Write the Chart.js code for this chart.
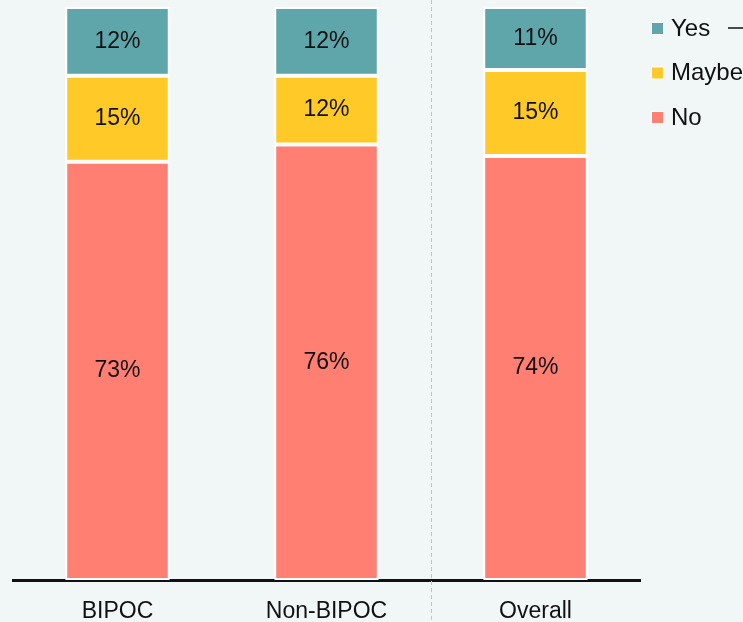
<!DOCTYPE html>
<html>
<head>
<meta charset="utf-8">
<script src="https://cdn.jsdelivr.net/npm/chart.js@4"></script>
<style>
  html, body { margin: 0; padding: 0; background: #f1f7f7; }
  #wrap { width: 743px; height: 622px; }
</style>
</head>
<body>
<div id="wrap"><canvas id="surveyChart"></canvas></div>
<script>
const categories = ['BIPOC', 'Non-BIPOC', 'Overall'];
const noValues = [73, 76, 74];
const maybeValues = [15, 12, 15];
const yesValues = [12, 12, 11];

const FONT = '"Liberation Sans", Arial, sans-serif';

// percent labels in the middle of each segment
const segmentLabels = {
  id: 'segmentLabels',
  afterDatasetsDraw(chart) {
    const ctx = chart.ctx;
    ctx.save();
    ctx.font = '23px ' + FONT;
    ctx.fillStyle = '#111';
    ctx.textAlign = 'center';
    ctx.textBaseline = 'middle';
    chart.data.datasets.forEach((ds, i) => {
      chart.getDatasetMeta(i).data.forEach((bar, j) => {
        const p = bar.getProps(['x', 'y', 'base'], true);
        ctx.fillText(ds.data[j] + '%', p.x, (p.y + p.base) / 2);
      });
    });
    ctx.restore();
  }
};

// dashed separator before "Overall"
const separator = {
  id: 'separator',
  beforeDatasetsDraw(chart) {
    const x = chart.scales.x;
    const sx = Math.round((x.getPixelForValue(1) + x.getPixelForValue(2)) / 2) + 0.5;
    const ctx = chart.ctx;
    ctx.save();
    ctx.strokeStyle = '#c4c4c4';
    ctx.lineWidth = 1;
    ctx.setLineDash([4, 3]);
    ctx.beginPath();
    ctx.moveTo(sx, 0);
    ctx.lineTo(sx, chart.height);
    ctx.stroke();
    ctx.restore();
  }
};

// legend drawn at the right edge, allowed to run off the canvas
const sideLegend = {
  id: 'sideLegend',
  afterDraw(chart) {
    const ctx = chart.ctx;
    const items = chart.data.datasets.slice().reverse();
    ctx.save();
    ctx.font = '24px ' + FONT;
    ctx.textBaseline = 'middle';
    items.forEach((ds, i) => {
      const y = 28 + i * 44.5;
      ctx.fillStyle = '#ffffff';
      ctx.fillRect(651, y - 6, 13, 13);
      ctx.fillStyle = ds.backgroundColor;
      ctx.fillRect(652, y - 5, 11, 11);
      ctx.fillStyle = '#111';
      ctx.fillText(ds.label, 671, y + 1);
    });
    ctx.strokeStyle = '#111';
    ctx.lineWidth = 1.5;
    ctx.beginPath();
    ctx.moveTo(728, 28);
    ctx.lineTo(743, 28);
    ctx.stroke();
    ctx.restore();
  }
};

new Chart(document.getElementById('surveyChart'), {
  type: 'bar',
  data: {
    labels: categories,
    datasets: [
      { label: 'No', data: noValues, backgroundColor: '#ff7f73' },
      { label: 'Maybe', data: maybeValues, backgroundColor: '#ffc928' },
      { label: 'Yes', data: yesValues, backgroundColor: '#5fa6aa' }
    ]
  },
  options: {
    responsive: true,
    maintainAspectRatio: false,
    animation: false,
    layout: { padding: { left: 13, right: 103, top: 7, bottom: -13 } },
    datasets: {
      bar: {
        categoryPercentage: 1,
        barPercentage: 0.5,
        borderColor: '#ffffff',
        borderWidth: 2,
        borderSkipped: false
      }
    },
    plugins: {
      legend: { display: false },
      tooltip: { enabled: false }
    },
    scales: {
      x: {
        stacked: true,
        grid: { display: false },
        border: { display: true, color: '#111', width: 3 },
        ticks: { color: '#111', font: { family: FONT, size: 23, lineHeight: 1 }, padding: 12 }
      },
      y: {
        stacked: true,
        display: false,
        min: 0,
        max: 100
      }
    }
  },
  plugins: [separator, segmentLabels, sideLegend]
});
</script>
</body>
</html>
